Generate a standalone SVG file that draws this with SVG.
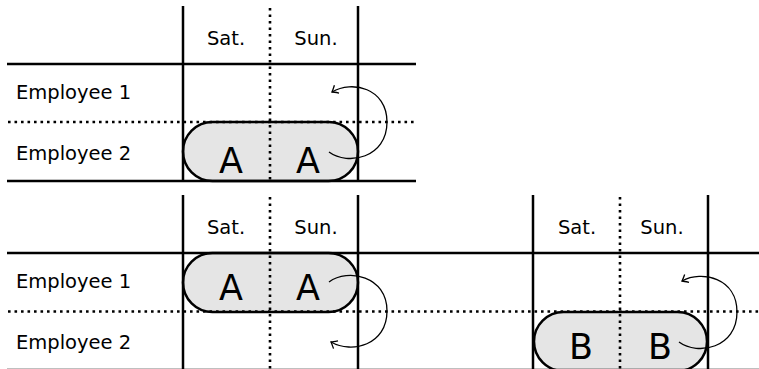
<svg xmlns="http://www.w3.org/2000/svg" width="759" height="369" viewBox="0 0 759 369">
  <style>
    .solid { stroke: #000; stroke-width: 2.5; fill: none; }
    .dot { stroke: #000; stroke-width: 2.6; stroke-dasharray: 2.6 3.9; fill: none; }
    .pill-fill { fill: #e5e5e5; stroke: none; }
    .pill-edge { fill: none; stroke: #000; stroke-width: 2.5; }
    .lbl { font-family: "DejaVu Sans", sans-serif; font-size: 19.5px; fill: #000; }
    .day { font-family: "DejaVu Sans", sans-serif; font-size: 19.5px; fill: #000; text-anchor: middle; }
    .big { font-family: "DejaVu Sans", sans-serif; font-size: 35px; fill: #000; text-anchor: middle; }
    .arc { fill: none; stroke: #000; stroke-width: 1.3; marker-end: url(#tip); }
  </style>
  <defs>
    <marker id="tip" markerUnits="userSpaceOnUse" markerWidth="12" markerHeight="12" viewBox="-7 -6 8 12" refX="0" refY="0" orient="auto">
      <path d="M-5.5,-4.5 Q-1.5,-1 0,0 Q-1.5,1 -5.5,4.5" fill="none" stroke="#000" stroke-width="1.3"/>
    </marker>
  </defs>

  <rect width="759" height="369" fill="#fff"/>

  <!-- shift fills (drawn under the grid) -->
  <g id="shift-fills">
    <rect class="pill-fill" x="183" y="122" width="175" height="59" rx="29.5"/>
    <rect class="pill-fill" x="183" y="253" width="175" height="59" rx="29.5"/>
    <rect class="pill-fill" x="534" y="312" width="173" height="59" rx="29.5"/>
  </g>

  <!-- grid of the first schedule -->
  <g id="grid-top">
    <line class="solid" x1="183" y1="6" x2="183" y2="181"/>
    <line class="solid" x1="358" y1="6" x2="358" y2="181"/>
    <line class="dot" x1="270" y1="8" x2="270" y2="181"/>
    <line class="solid" x1="7" y1="64" x2="416" y2="64"/>
    <line class="dot" x1="8" y1="122" x2="416" y2="122"/>
    <line class="solid" x1="7" y1="181" x2="416" y2="181"/>
  </g>

  <!-- grid of the second and third schedules -->
  <g id="grid-bottom">
    <line class="solid" x1="183" y1="195" x2="183" y2="371"/>
    <line class="solid" x1="358" y1="195" x2="358" y2="371"/>
    <line class="dot" x1="270" y1="197" x2="270" y2="371"/>
    <line class="solid" x1="533" y1="195" x2="533" y2="371"/>
    <line class="solid" x1="708" y1="195" x2="708" y2="371"/>
    <line class="dot" x1="620" y1="197" x2="620" y2="371"/>
    <line class="solid" x1="7" y1="253" x2="759" y2="253"/>
    <line class="dot" x1="8" y1="311.5" x2="759" y2="311.5"/>
    <line class="solid" x1="7" y1="370" x2="759" y2="370"/>
  </g>

  <!-- header and row labels -->
  <g id="labels-top">
    <text class="day" x="226" y="45">Sat.</text>
    <text class="day" x="316" y="45">Sun.</text>
    <text class="lbl" x="16" y="99">Employee 1</text>
    <text class="lbl" x="16" y="160">Employee 2</text>
  </g>
  <g id="labels-bottom-left">
    <text class="day" x="226" y="234">Sat.</text>
    <text class="day" x="316" y="234">Sun.</text>
    <text class="lbl" x="16" y="288">Employee 1</text>
    <text class="lbl" x="16" y="349">Employee 2</text>
  </g>
  <g id="labels-bottom-right">
    <text class="day" x="577" y="234">Sat.</text>
    <text class="day" x="662" y="234">Sun.</text>
  </g>

  <!-- shifts -->
  <g id="shift-A-top">
    <rect class="pill-edge" x="183" y="122" width="175" height="59" rx="29.5"/>
    <text class="big" x="231" y="173">A</text>
    <text class="big" x="308" y="173">A</text>
  </g>
  <g id="shift-A-bottom">
    <rect class="pill-edge" x="183" y="253" width="175" height="59" rx="29.5"/>
    <text class="big" x="231" y="300">A</text>
    <text class="big" x="308" y="300">A</text>
  </g>
  <g id="shift-B">
    <rect class="pill-edge" x="534" y="312" width="173" height="59" rx="29.5"/>
    <text class="big" x="581" y="359">B</text>
    <text class="big" x="660" y="359">B</text>
  </g>

  <!-- swap arrows -->
  <g id="connectors">
    <path class="arc" d="M329,152 C348,166 387,158 387,122 C387,88 352,80 332,92"/>
    <path class="arc" d="M329,282 C348,268 387,276 387,311 C387,345 352,354 331,342"/>
    <path class="arc" d="M679,342 C698,356 737,348 737,312 C737,278 702,270 682,281"/>
  </g>
</svg>
